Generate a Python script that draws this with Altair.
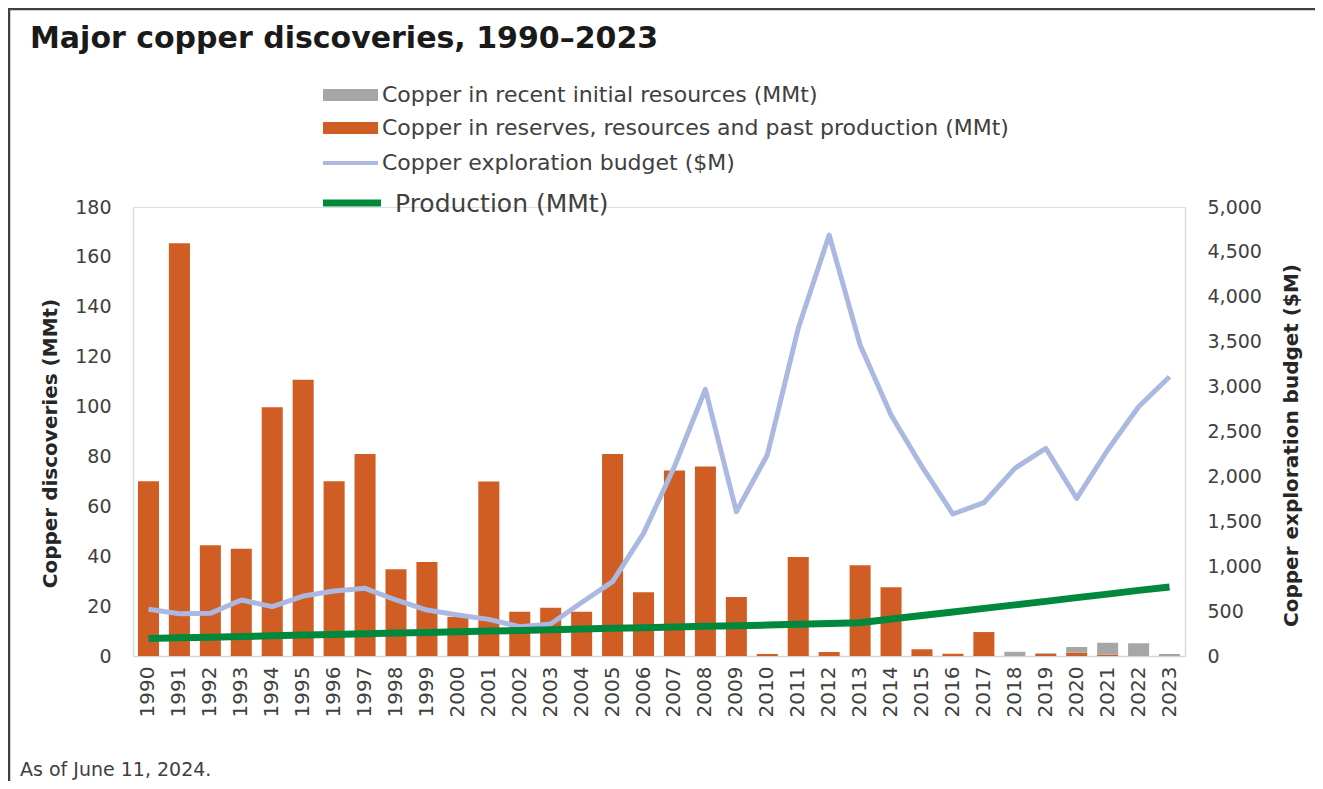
import altair as alt
import pandas as pd

years = ["1990", "1991", "1992", "1993", "1994", "1995", "1996", "1997", "1998", "1999",
         "2000", "2001", "2002", "2003", "2004", "2005", "2006", "2007", "2008", "2009",
         "2010", "2011", "2012", "2013", "2014", "2015", "2016", "2017", "2018", "2019",
         "2020", "2021", "2022", "2023"]

# Copper in reserves, resources and past production (MMt)
reserves = [70.1, 165.5, 44.4, 43.0, 99.7, 110.7, 70.1, 81.0, 34.8, 37.7,
            15.7, 70.0, 17.7, 19.3, 17.7, 81.0, 25.6, 74.4, 76.0, 23.7,
            0.8, 39.7, 1.6, 36.4, 27.6, 2.7, 0.9, 9.6, 0.0, 0.8,
            1.3, 0.5, 0.0, 0.0]
# Copper in recent initial resources (MMt)
initial = [0, 0, 0, 0, 0, 0, 0, 0, 0, 0,
           0, 0, 0, 0, 0, 0, 0, 0, 0, 0,
           0, 0, 0, 0, 0, 0, 0, 0, 1.7, 0.3,
           2.3, 4.8, 5.1, 0.8]
# Copper exploration budget ($M)
budget = [520, 470, 475, 624, 550, 668, 724, 754, 624, 512,
          457, 408, 327, 356, 595, 828, 1366, 2110, 2970, 1607,
          2238, 3649, 4688, 3463, 2684, 2108, 1581, 1707, 2090, 2313,
          1756, 2294, 2776, 3110]
# Production (MMt)
production = [7.0, 7.3, 7.5, 7.8, 8.1, 8.4, 8.6, 8.9, 9.2, 9.4,
              9.7, 10.0, 10.2, 10.5, 10.8, 11.1, 11.3, 11.6, 11.9, 12.1,
              12.4, 12.7, 13.0, 13.3, 14.8, 16.2, 17.6, 19.1, 20.5, 21.9,
              23.4, 24.8, 26.3, 27.7]

S_RES = "Copper in reserves, resources and past production (MMt)"
S_INI = "Copper in recent initial resources (MMt)"

ORANGE = "#D05E24"
GRAY = "#A6A6A6"
LAV = "#AAB8E2"
GREEN = "#00893C"
TXT = "#404040"
FONT = "DejaVu Sans"

bar_rows = []
for i, y in enumerate(years):
    bar_rows.append({"year": y, "series": S_RES, "ord": 0, "value": reserves[i]})
    bar_rows.append({"year": y, "series": S_INI, "ord": 1, "value": initial[i]})
bar_df = pd.DataFrame(bar_rows)
line_df = pd.DataFrame({"year": years, "budget": budget, "production": production})

W, H = 1052, 449

xenc = alt.X(
    "year:N", sort=years,
    scale=alt.Scale(paddingInner=0.32, paddingOuter=0.16),
    axis=alt.Axis(title=None, labelAngle=270, labelAlign="right", labelBaseline="middle",
                  labelPadding=10, labelFontSize=20, labelColor=TXT, labelFont=FONT,
                  ticks=False, domainColor="#D9D9D9", domainWidth=1.5, grid=False),
)

bars = alt.Chart(bar_df).mark_bar().encode(
    x=xenc,
    y=alt.Y("value:Q", stack="zero", scale=alt.Scale(domain=[0, 180], nice=False),
            axis=alt.Axis(title="Copper discoveries (MMt)", values=list(range(0, 181, 20)),
                          orient="left", grid=False, ticks=False, domainColor="#D9D9D9",
                          domainWidth=1.5, labelFontSize=19, labelColor=TXT, labelFont=FONT,
                          labelPadding=22, titleFontSize=20, titleFontWeight="bold",
                          titleColor="#262626", titleFont=FONT, titlePadding=14,
                          titleY=236)),
    color=alt.Color("series:N", scale=alt.Scale(domain=[S_RES, S_INI], range=[ORANGE, GRAY]),
                    legend=None),
    order=alt.Order("ord:Q"),
)

budget_line = alt.Chart(line_df).mark_line(color=LAV, strokeWidth=5, strokeJoin="round").encode(
    x=alt.X("year:N", sort=years),
    y=alt.Y("budget:Q", scale=alt.Scale(domain=[0, 5000], nice=False),
            axis=alt.Axis(title="Copper exploration budget ($M)", values=list(range(0, 5001, 500)),
                          format=",.0f", orient="right", grid=False, ticks=False,
                          domainColor="#D9D9D9", domainWidth=1.5, labelFontSize=19,
                          labelColor=TXT, labelFont=FONT, labelPadding=22,
                          titleFontSize=20, titleFontWeight="bold", titleColor="#262626",
                          titleFont=FONT, titleAngle=270, titlePadding=40, titleY=238)),
)

prod_line = alt.Chart(line_df).mark_line(color=GREEN, strokeWidth=7).encode(
    x=alt.X("year:N", sort=years),
    y=alt.Y("production:Q", scale=alt.Scale(domain=[0, 180], nice=False), axis=None),
)

one = pd.DataFrame({"k": [0]})


def text(t, x, y, size, color=TXT, weight="normal", baseline="middle"):
    return alt.Chart(one).mark_text(text=t, align="left", baseline=baseline, fontSize=size,
                                    font=FONT, color=color, fontWeight=weight).encode(
        x=alt.value(x), y=alt.value(y))


def rect(x1, x2, y1, y2, color):
    return alt.Chart(one).mark_rect(color=color).encode(
        x=alt.value(x1), x2=alt.value(x2), y=alt.value(y1), y2=alt.value(y2))


def hline(x1, x2, y, color, w):
    return alt.Chart(one).mark_rule(color=color, strokeWidth=w).encode(
        x=alt.value(x1), x2=alt.value(x2), y=alt.value(y))


def vline(x, y1, y2, color, w):
    return alt.Chart(one).mark_rule(color=color, strokeWidth=w).encode(
        x=alt.value(x), y=alt.value(y1), y2=alt.value(y2))


deco = [
    hline(-125, 1182, -198, "#404040", 2.5),
    vline(-124, -199, 574, "#404040", 2.5),
    text("Major copper discoveries, 1990\u20132023", -103, -159, 30, color="#1a1a1a",
         weight="bold", baseline="alphabetic"),
    rect(190, 245, -118, -106, GRAY),
    text(S_INI, 249, -112, 22),
    rect(190, 245, -85, -73, ORANGE),
    text(S_RES, 249, -79, 22),
    hline(190, 245, -44, LAV, 4),
    text("Copper exploration budget ($M)", 249, -44, 22),
    hline(190, 248, -4, GREEN, 7),
    text("Production (MMt)", 262, -3, 25),
    text("As of June 11, 2024.", -113, 563, 19),
]

chart = alt.layer(bars, budget_line, prod_line, *deco).resolve_scale(
    y="independent"
).properties(
    width=W, height=H,
    padding={"left": 125, "top": 199, "right": 130, "bottom": 125},
    autosize=alt.AutoSizeParams(type="none"),
).configure_view(stroke=None).configure(background="white")

chart.save("out.html", embed_options={"renderer": "svg", "actions": False})
